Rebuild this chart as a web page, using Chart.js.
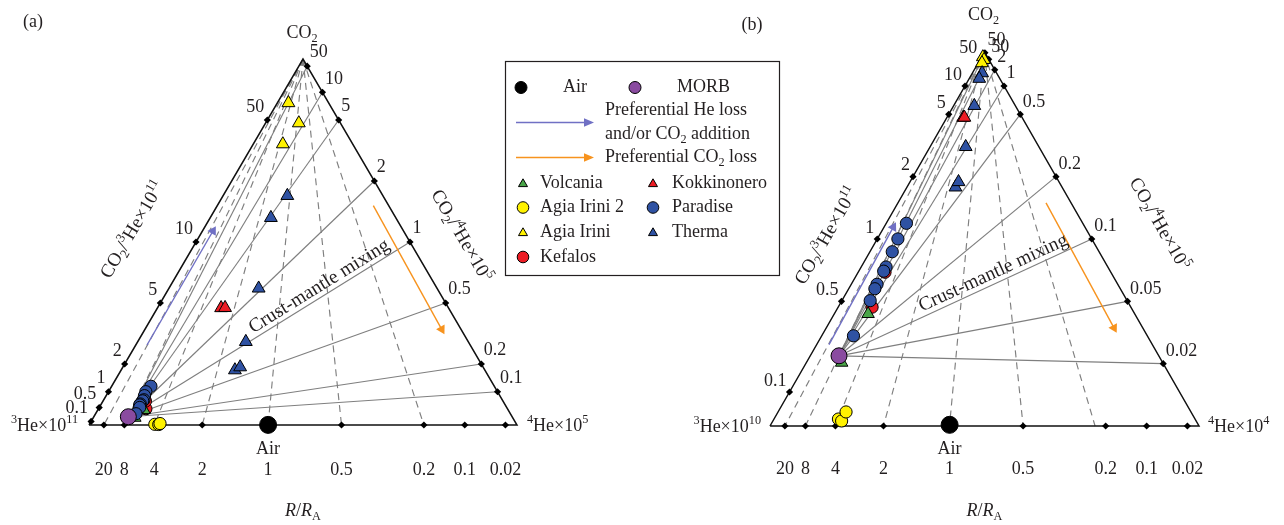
<!DOCTYPE html>
<html lang="en">
<head>
<meta charset="utf-8">
<title>CO2 – 3He – 4He ternary diagrams</title>
<script src="https://cdn.jsdelivr.net/npm/chart.js@4.4.1/dist/chart.umd.min.js"></script>
<style>
  html, body { margin:0; padding:0; background:#ffffff; }
  #wrap { position:relative; width:1284px; height:525px; overflow:hidden; background:#fff; }
  canvas { position:absolute; top:0; }
  #ca { left:0; }
  #cb { left:680px; }
</style>
</head>
<body>
<div id="wrap">
  <canvas id="ca" width="800" height="525"></canvas>
  <canvas id="cb" width="604" height="525"></canvas>
</div>
<script>
// ================= DATA =================
const RA_AIR = 1.39;   // atmospheric 3He/4He (x10^-6)

// tick values / labels
const bottomTicks  = [20, 8, 4, 2, 1, 0.5, 0.2, 0.1, 0.02];          // R/RA
const leftTicks    = [0.1, 0.5, 1, 2, 5, 10, 50];                     // CO2/3He
const rightTicksA  = [50, 10, 5, 2, 1, 0.5, 0.2, 0.1];                // CO2/4He, panel (a)
const rightTicksB  = [50, 5, 2, 1, 0.5, 0.2, 0.1, 0.05, 0.02];        // CO2/4He, panel (b)
const rightLabelsA = ['50', '10', '5', '2', '1', '0.5', '0.2', '0.1'];
const rightLabelsB = ['50', '50', '2', '1', '0.5', '0.2', '0.1', '0.05', '0.02'];
const isoRA = [20, 8, 4, 2, 1, 0.5, 0.2];    // dashed iso-R/RA lines (a)
const isoRB = [20, 8, 4, 2, 1, 0.5, 0.23];   // dashed iso-R/RA lines (b)

// samples: R/RA and CO2/4He (same units as the right-hand axis)
const volcaniaR    = [6.54, 5.67];
const volcaniaW    = [0.206, 0.38];
const agiaIrini2R  = [3.98, 3.71, 3.65];
const agiaIrini2W  = [0.0124, 0.0084, 0.0237];
const agiaIriniR   = [2.6, 0.9, 1.7];
const agiaIriniW   = [33.8, 10.6, 11.1];
const kefalosR     = [5.49, 6.06];
const kefalosW     = [0.402, 0.658];
const kokkinoneroR = [2.57, 2.38];
const kokkinoneroW = [2.15, 2.03];
const paradiseR    = [6.29, 6.77, 6.67, 6.41, 6.55, 6.73, 6.75, 6.53, 6.66];
const paradiseW    = [1.153, 1.042, 0.896, 0.733, 0.714, 0.632, 0.602, 0.508, 0.326];
const thermaR      = [1.07, 1.48, 1.43, 1.48, 1.58, 1.49];
const thermaW      = [4.17, 3.99, 1.78, 0.90, 0.564, 0.577];
const airR  = [1];
const airW  = [0.00076];
const morbR = [8];
const morbW = [0.28];

// ================= STYLES =================
const BLUE_ARROW = '#7070c4', ORANGE_ARROW = '#f7931e';
const SERIES = [
  { name:'MORB',         r:morbR,         w:morbW,         shape:'circle',   color:'#8a4ba0', size:8,   z:1 },
  { name:'Air',          r:airR,          w:airW,          shape:'circle',   color:'#000000', size:8.5, z:2 },
  { name:'Paradise',     r:paradiseR,     w:paradiseW,     shape:'circle',   color:'#2f52a3', size:6.1, z:3 },
  { name:'Volcania',     r:volcaniaR,     w:volcaniaW,     shape:'triangle', color:'#49a548', size:7.2, z:4 },
  { name:'Kefalos',      r:kefalosR,      w:kefalosW,      shape:'circle',   color:'#ed1c24', size:6.1, z:5 },
  { name:'Therma',       r:thermaR,       w:thermaW,       shape:'triangle', color:'#2f52a3', size:7.4, z:6 },
  { name:'Kokkinonero',  r:kokkinoneroR,  w:kokkinoneroW,  shape:'triangle', color:'#ed1c24', size:7.4, z:7 },
  { name:'Agia Irini',   r:agiaIriniR,    w:agiaIriniW,    shape:'triangle', color:'#fff200', size:7.4, z:8 },
  { name:'Agia Irini 2', r:agiaIrini2R,   w:agiaIrini2W,   shape:'circle',   color:'#fff200', size:6.1, z:9 }
];
const styleOf = n => SERIES.find(s => s.name === n);

// ================= TERNARY HELPERS =================
// components: C = CO2 (top), A = 3He (bottom-left), B = 4He (bottom-right)
function tern(c, a, b) { const s = c + a + b; return { x: (b + c / 2) / s, y: c / s }; }
function samplePt(r, w, k) { return tern(k * w, RA_AIR * r, 1); }
function bottomPt(r)       { return tern(0, RA_AIR * r, 1); }
function leftPt(v, k)      { return tern(k * v / 10, 1, 0); }
function rightPt(w, k)     { return tern(k * w, 0, 1); }
const APEX = tern(1, 0, 0), BLV = tern(0, 1, 0), BRV = tern(0, 0, 1);

// ================= RICH TEXT =================
const SERIF = '"Liberation Serif", "Times New Roman", serif';
const TXT = '#231f20';
function parseRich(s) {
  const out = []; let buf = '', italic = false, i = 0;
  const flush = () => { if (buf) { out.push({ t: buf, i: italic, m: '' }); buf = ''; } };
  while (i < s.length) {
    const ch = s[i];
    if ((ch === '_' || ch === '^') && s[i + 1] === '{') {
      flush(); const j = s.indexOf('}', i);
      out.push({ t: s.slice(i + 2, j), i: false, m: ch === '_' ? 'sub' : 'sup' });
      i = j + 1; continue;
    }
    if (ch === '~') { flush(); italic = !italic; i++; continue; }
    buf += ch; i++;
  }
  flush(); return out;
}
function fontOf(p, size) {
  const s = p.m ? size * 0.68 : size;
  return (p.i ? 'italic ' : '') + s.toFixed(2) + 'px ' + SERIF;
}
function drawRich(ctx, str, x, y, size, align, rot) {
  const parts = parseRich(str);
  ctx.save();
  ctx.translate(x, y);
  if (rot) ctx.rotate(rot * Math.PI / 180);
  let w = 0;
  parts.forEach(p => { ctx.font = fontOf(p, size); w += ctx.measureText(p.t).width; });
  let cx = align === 'center' ? -w / 2 : (align === 'right' ? -w : 0);
  ctx.textAlign = 'left'; ctx.textBaseline = 'middle'; ctx.fillStyle = TXT;
  parts.forEach(p => {
    ctx.font = fontOf(p, size);
    const dy = p.m === 'sub' ? size * 0.3 : (p.m === 'sup' ? -size * 0.32 : 0);
    ctx.fillText(p.t, cx, dy);
    cx += ctx.measureText(p.t).width;
  });
  ctx.restore();
}

function drawMarker(ctx, shape, color, x, y, r) {
  ctx.beginPath();
  if (shape === 'circle') ctx.arc(x, y, r, 0, Math.PI * 2);
  else {
    for (let k = 0; k < 3; k++) {
      const a = k * 2 * Math.PI / 3;
      const px = x + Math.sin(a) * r, py = y - Math.cos(a) * r;
      k ? ctx.lineTo(px, py) : ctx.moveTo(px, py);
    }
    ctx.closePath();
  }
  ctx.fillStyle = color; ctx.fill();
  ctx.lineWidth = 1; ctx.strokeStyle = '#000'; ctx.stroke();
}
function drawArrow(ctx, x0, y0, x1, y1, color) {
  ctx.save();
  ctx.strokeStyle = color; ctx.fillStyle = color; ctx.lineWidth = 1.4;
  ctx.beginPath(); ctx.moveTo(x0, y0); ctx.lineTo(x1 - 8, y1); ctx.stroke();
  ctx.beginPath(); ctx.moveTo(x1, y1); ctx.lineTo(x1 - 10, y1 - 4.2); ctx.lineTo(x1 - 10, y1 + 4.2); ctx.closePath(); ctx.fill();
  ctx.restore();
}

function drawLegend(ctx) {
  ctx.save();
  ctx.strokeStyle = '#231f20'; ctx.lineWidth = 1.2;
  ctx.strokeRect(505.5, 61.5, 274, 214);
  const FS = 18;
  const m = (name, x, y, r) => { const s = styleOf(name); drawMarker(ctx, s.shape, s.color, x, y, r); };
  m('Air', 521, 87.5, 6); drawRich(ctx, 'Air', 563, 87, FS, 'left', 0);
  m('MORB', 635, 87.5, 6); drawRich(ctx, 'MORB', 677, 87, FS, 'left', 0);
  drawArrow(ctx, 516, 122.5, 594, 122.5, BLUE_ARROW);
  drawRich(ctx, 'Preferential He loss', 605, 110, FS, 'left', 0);
  drawRich(ctx, 'and/or CO_{2} addition', 605, 134, FS, 'left', 0);
  drawArrow(ctx, 516, 157.5, 594, 157.5, ORANGE_ARROW);
  drawRich(ctx, 'Preferential CO_{2} loss', 605, 157, FS, 'left', 0);
  const rows = [
    ['Volcania', 183, 'Kokkinonero'],
    ['Agia Irini 2', 207.5, 'Paradise'],
    ['Agia Irini', 232, 'Therma'],
    ['Kefalos', 257, null]
  ];
  rows.forEach(([a, y, b]) => {
    const sa = styleOf(a);
    m(a, 523, sa.shape === 'triangle' ? y + 1 : y, sa.shape === 'triangle' ? 5.2 : 5.8);
    drawRich(ctx, a, 540, y, FS, 'left', 0);
    if (b) {
      const sb = styleOf(b);
      m(b, 653, sb.shape === 'triangle' ? y + 1 : y, sb.shape === 'triangle' ? 5.2 : 5.8);
      drawRich(ctx, b, 672, y, FS, 'left', 0);
    }
  });
  ctx.restore();
}

// ================= PANELS =================
const PANELS = [
  { id:'ca', k:1, rightTicks:rightTicksA, rightLabels:rightLabelsA, isoR:isoRA,
    pad:{ left:89, right:283, top:59, bottom:100 },
    tag:'(a)', tagPos:[33, 22], apexDy:-26,
    heLeft:'^{3}He×10^{11}', heLeftDx:-11, heRight:'^{4}He×10^{5}', heRightDx:10,
    bottomDy:45, leftDy:-13, rightDy:-13.5, airDy:24, rraY:511,
    leftTitle:[44, -195], rightTitle:[-56, -189],
    crust:{ w:1, f:0.697, off:10 },
    arrows:[ { from:{x:0.1355, y:0.2186}, to:{x:0.2897, y:0.5301}, color:BLUE_ARROW },
             { from:{x:0.6643, y:0.5992}, to:{x:0.8241, y:0.2615}, color:ORANGE_ARROW } ],
    legend:true },
  { id:'cb', k:10, rightTicks:rightTicksB, rightLabels:rightLabelsB, isoR:isoRB,
    pad:{ left:90, right:85, top:52, bottom:99 },
    tag:'(b)', tagPos:[72, 25], apexDy:-37,
    heLeft:'^{3}He×10^{10}', heLeftDx:-9, heRight:'^{4}He×10^{4}', heRightDx:9,
    bottomDy:43, leftDy:-11, rightDy:-12.5, airDy:24, rraY:511,
    leftTitle:[57, -190], rightTitle:[-40, -202],
    crust:{ w:0.1, f:0.628, off:10.3 },
    arrows:[ { from:{x:0.1375, y:0.2178}, to:{x:0.2874, y:0.5317}, color:BLUE_ARROW },
             { from:{x:0.6434, y:0.5967}, to:{x:0.8019, y:0.2622}, color:ORANGE_ARROW } ],
    legend:false }
];

function buildDatasets(cfg) {
  const k = cfg.k, ds = [];
  const line = (a, b, dash, label) => ({
    label, data:[a, b], showLine:true, borderColor:'#7f7f7f', borderWidth:1.15,
    borderDash: dash || [], pointRadius:0, pointHoverRadius:0, clip:false, order:100
  });
  cfg.isoR.forEach(r => ds.push(line(APEX, bottomPt(r), [7, 5], 'R/RA ' + r)));
  const morb = samplePt(morbR[0], morbW[0], k);
  cfg.rightTicks.forEach(w => ds.push(line(morb, rightPt(w, k), null, 'mixing ' + w)));
  ds.push({ label:'frame', data:[BLV, BRV, APEX, BLV], showLine:true, borderColor:'#111',
    borderWidth:1.5, borderJoinStyle:'miter', pointRadius:0, clip:false, order:95 });
  ds.push({ label:'ticks',
    data:[...bottomTicks.map(bottomPt), ...leftTicks.map(v => leftPt(v, k)), ...cfg.rightTicks.map(w => rightPt(w, k))],
    showLine:false, pointStyle:'rectRot', pointRadius:3.6, pointBackgroundColor:'#000',
    pointBorderColor:'#000', pointBorderWidth:0, clip:false, order:90 });
  cfg.arrows.forEach(a => ds.push({
    label:'arrow', data:[a.from, a.to], showLine:true, borderColor:a.color, borderWidth:1.4,
    pointRadius:[0, 5.6], pointStyle:'triangle', pointBackgroundColor:a.color, pointBorderColor:a.color,
    pointBorderWidth:0, clip:false, order:80,
    pointRotation: c => {
      const s = c.chart.scales, d = c.dataset.data;
      const dx = s.x.getPixelForValue(d[1].x) - s.x.getPixelForValue(d[0].x);
      const dy = s.y.getPixelForValue(d[1].y) - s.y.getPixelForValue(d[0].y);
      return Math.atan2(dx, -dy) * 180 / Math.PI;
    }
  }));
  SERIES.forEach(s => ds.push({
    label:s.name, data:s.r.map((r, i) => samplePt(r, s.w[i], k)), showLine:false,
    pointStyle:s.shape, pointRadius:s.size, pointHoverRadius:s.size,
    pointBackgroundColor:s.color, pointBorderColor:'#000', pointBorderWidth:1,
    clip:false, order:s.z
  }));
  return ds;
}

function panelPlugin(cfg) {
  return {
    id:'panel_' + cfg.id,
    afterDatasetsDraw(chart) {
      const ctx = chart.ctx, xs = chart.scales.x, ys = chart.scales.y;
      const P = p => ({ x: xs.getPixelForValue(p.x), y: ys.getPixelForValue(p.y) });
      const k = cfg.k, FS = 18;
      const bl = P(BLV), br = P(BRV), ap = P(APEX);
      ctx.save();
      drawRich(ctx, cfg.tag, cfg.tagPos[0], cfg.tagPos[1], FS, 'center', 0);
      drawRich(ctx, 'CO_{2}', ap.x - 1, ap.y + cfg.apexDy, FS, 'center', 0);
      drawRich(ctx, cfg.heLeft, bl.x + cfg.heLeftDx, bl.y + 1, FS, 'right', 0);
      drawRich(ctx, cfg.heRight, br.x + cfg.heRightDx, br.y + 1, FS, 'left', 0);
      bottomTicks.forEach(r => { const q = P(bottomPt(r)); drawRich(ctx, String(r), q.x, q.y + cfg.bottomDy, FS, 'center', 0); });
      leftTicks.forEach(v => { const q = P(leftPt(v, k)); drawRich(ctx, String(v), q.x - 3, q.y + cfg.leftDy, FS, 'right', 0); });
      cfg.rightTicks.forEach((w, i) => { const q = P(rightPt(w, k)); drawRich(ctx, cfg.rightLabels[i], q.x + 2.5, q.y + cfg.rightDy, FS, 'left', 0); });
      const air = P(samplePt(airR[0], airW[0], k));
      drawRich(ctx, 'Air', air.x, air.y + cfg.airDy, FS, 'center', 0);
      drawRich(ctx, '~R~/~R~_{A}', ap.x, cfg.rraY, FS, 'center', 0);
      const angL = Math.atan2(ap.y - bl.y, ap.x - bl.x) * 180 / Math.PI;
      drawRich(ctx, 'CO_{2}/^{3}He×10^{11}', bl.x + cfg.leftTitle[0], bl.y + cfg.leftTitle[1], 19, 'center', angL);
      const angR = Math.atan2(br.y - ap.y, br.x - ap.x) * 180 / Math.PI;
      drawRich(ctx, 'CO_{2}/^{4}He×10^{5}', br.x + cfg.rightTitle[0], br.y + cfg.rightTitle[1], 19, 'center', angR);
      const m = P(samplePt(morbR[0], morbW[0], k)), e = P(rightPt(cfg.crust.w, k));
      const dx = e.x - m.x, dy = e.y - m.y, L = Math.hypot(dx, dy), ux = dx / L, uy = dy / L;
      const cx = m.x + dx * cfg.crust.f + uy * cfg.crust.off;
      const cy = m.y + dy * cfg.crust.f - ux * cfg.crust.off;
      drawRich(ctx, 'Crust-mantle mixing', cx, cy, 19.5, 'center', Math.atan2(dy, dx) * 180 / Math.PI);
      if (cfg.legend) drawLegend(ctx);
      ctx.restore();
    }
  };
}

Chart.defaults.font.family = SERIF;
PANELS.forEach(cfg => {
  new Chart(document.getElementById(cfg.id), {
    type:'scatter',
    data:{ datasets: buildDatasets(cfg) },
    options:{
      responsive:false, animation:false, devicePixelRatio:1, events:[],
      layout:{ padding: cfg.pad },
      scales:{
        x:{ type:'linear', min:0, max:1, display:false },
        y:{ type:'linear', min:0, max:1, display:false }
      },
      plugins:{ legend:{ display:false }, tooltip:{ enabled:false }, title:{ display:false } }
    },
    plugins:[ panelPlugin(cfg) ]
  });
});
</script>
</body>
</html>
